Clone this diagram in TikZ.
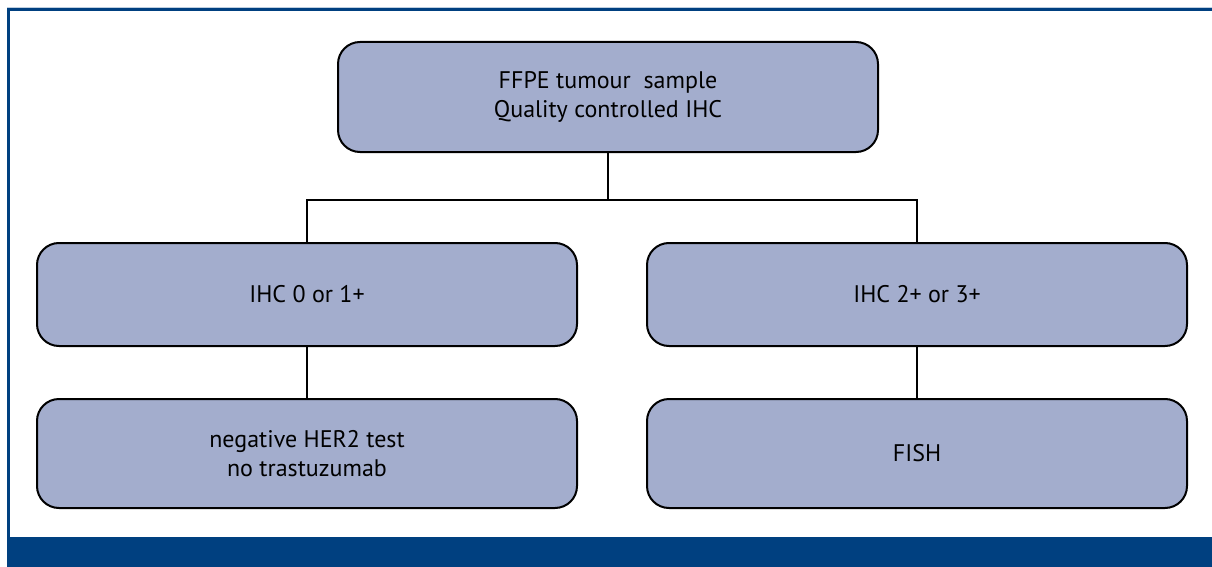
\documentclass[tikz,border=0pt]{standalone}
\usepackage{fontspec}
\setmainfont{PT Sans}
\usetikzlibrary{positioning}
\definecolor{framebl}{RGB}{0,64,128}
\definecolor{boxfill}{RGB}{163,173,205}
\tikzset{stage/.style={draw=black,line width=2pt,fill=boxfill,rounded corners=22pt,
    minimum width=540pt,align=center,font=\fontsize{24}{29}\selectfont},
  link/.style={line width=1.6pt,black}}

\begin{document}
\begin{tikzpicture}[x=1pt,y=-1pt]
      \useasboundingbox (0,0) rectangle (1212,567);
      % frame
      \draw[line width=1pt,framebl!25] (7,7.5)--(1212,7.5);
      \draw[line width=3pt,framebl] (8,540)--(8,10)--(1212,10);
      \fill[framebl] (6.5,537) rectangle (1212,567);

      \node[stage,minimum height=110pt] (sample) at (608,97) {FFPE tumour\ \ sample\\Quality controlled IHC};
      \node[stage,minimum height=103pt] (ihclow) at (307,294.5) {IHC 0 or 1+};
      \node[stage,minimum height=103pt] (ihchigh) at (917,294.5) {IHC 2+ or 3+};
      \node[stage,minimum height=109pt] (negative) at (307,453.5) {negative HER2 test\\no trastuzumab};
      \node[stage,minimum height=109pt] (fish) at (917,453.5) {FISH};

      \coordinate (fork) at (608,200);
      \draw[link] (sample.south)--(fork);
      \draw[link] (ihclow.north) |- (fork) -| (ihchigh.north);
      \draw[link] (ihclow.south)--(negative.north);
      \draw[link] (ihchigh.south)--(fish.north);
\end{tikzpicture}
\end{document}
